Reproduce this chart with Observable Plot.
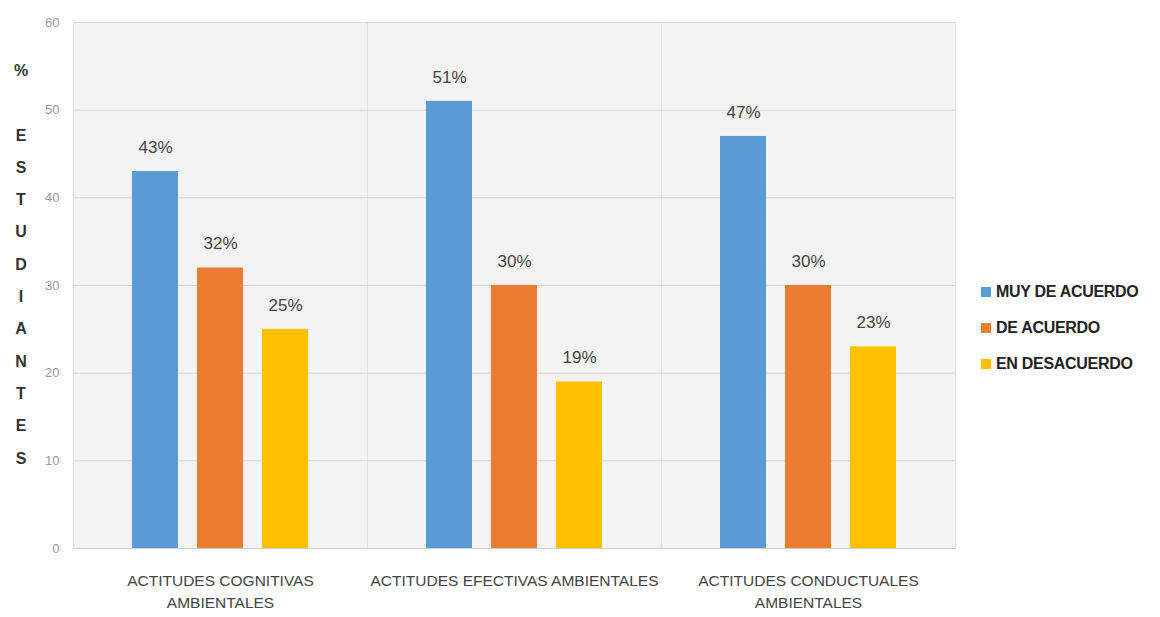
<!DOCTYPE html>
<html>
<head>
<meta charset="utf-8">
<script src="https://cdn.jsdelivr.net/npm/d3@7"></script>
<script src="https://cdn.jsdelivr.net/npm/@observablehq/plot@0.6"></script>
<style>
  html, body { margin: 0; padding: 0; background: #fff; }
  #wrap { position: relative; width: 1160px; height: 617px; font-family: "Liberation Sans Narrow", "Arial Narrow", "Liberation Sans", sans-serif; }
  #ylabel { position: absolute; left: 10px; top: 55px; width: 22px; text-align: center; font-weight: bold; font-size: 16px; color: #333; line-height: 32.3px; }
  #legend { position: absolute; left: 981px; top: 274px; font-weight: bold; font-size: 16px; color: #222; letter-spacing: -0.3px; }
  #legend .row { display: flex; align-items: center; height: 36px; }
  #legend .sw { width: 10px; height: 10px; margin-right: 5px; }
</style>
</head>
<body>
<div id="wrap">
  <div id="chart"></div>
  <div id="ylabel"></div>
  <div id="legend"></div>
</div>
<script>
const categories = ["ACTITUDES COGNITIVAS\nAMBIENTALES", "ACTITUDES EFECTIVAS AMBIENTALES", "ACTITUDES CONDUCTUALES\nAMBIENTALES"];
const series = ["MUY DE ACUERDO", "DE ACUERDO", "EN DESACUERDO"];
const muyDeAcuerdo = [43, 51, 47];
const deAcuerdo = [32, 30, 30];
const enDesacuerdo = [25, 19, 23];
const colors = ["#5b9bd5", "#ed7d31", "#ffc000"];
const yTicks = [0, 10, 20, 30, 40, 50, 60];
const yTitle = ["%", "", "E", "S", "T", "U", "D", "I", "A", "N", "T", "E", "S"];

const seriesValues = [muyDeAcuerdo, deAcuerdo, enDesacuerdo];
const data = [];
categories.forEach((c, i) => series.forEach((s, j) => data.push({category: c, series: s, value: seriesValues[j][i]})));

const font = '"Liberation Sans Narrow", "Arial Narrow", "Liberation Sans", sans-serif';

const chart = Plot.plot({
  width: 965,
  height: 617,
  marginLeft: 72,
  marginRight: 10,
  marginTop: 22,
  marginBottom: 69,
  style: {fontFamily: font, background: "transparent"},
  fx: {domain: categories, padding: 0, label: null},
  x: {domain: series, padding: 0.29, paddingOuter: 0.9, axis: null},
  y: {domain: [0, 60], label: null},
  color: {domain: series, range: colors},
  marks: [
    Plot.frame({fill: "#f3f3f3", stroke: "#e2e2e2"}),
    Plot.gridY(yTicks, {stroke: "#d6d6d6", strokeOpacity: 1}),
    Plot.axisY(yTicks, {tickSize: 0, tickPadding: 14, fontSize: 13, fill: "#9a9a9a", label: null}),
    Plot.axisFx({anchor: "bottom", tickSize: 0, tickPadding: 22, fontSize: 15.5, fill: "#444", lineHeight: 1.42, label: null}),
    Plot.barY(data, {fx: "category", x: "series", y: "value", fill: "series"}),
    Plot.ruleY([0], {stroke: "#d0d0d0"}),
    Plot.text(data, {fx: "category", x: "series", y: "value", text: d => d.value + "%", dy: -24, fontSize: 17, fill: "#444"})
  ]
});
document.getElementById("chart").appendChild(chart);

document.getElementById("ylabel").innerHTML = yTitle.map(t => `<div>${t || "&nbsp;"}</div>`).join("");
document.getElementById("legend").innerHTML = series.map((s, i) =>
  `<div class="row"><div class="sw" style="background:${colors[i]}"></div><div>${s}</div></div>`).join("");
</script>
</body>
</html>
